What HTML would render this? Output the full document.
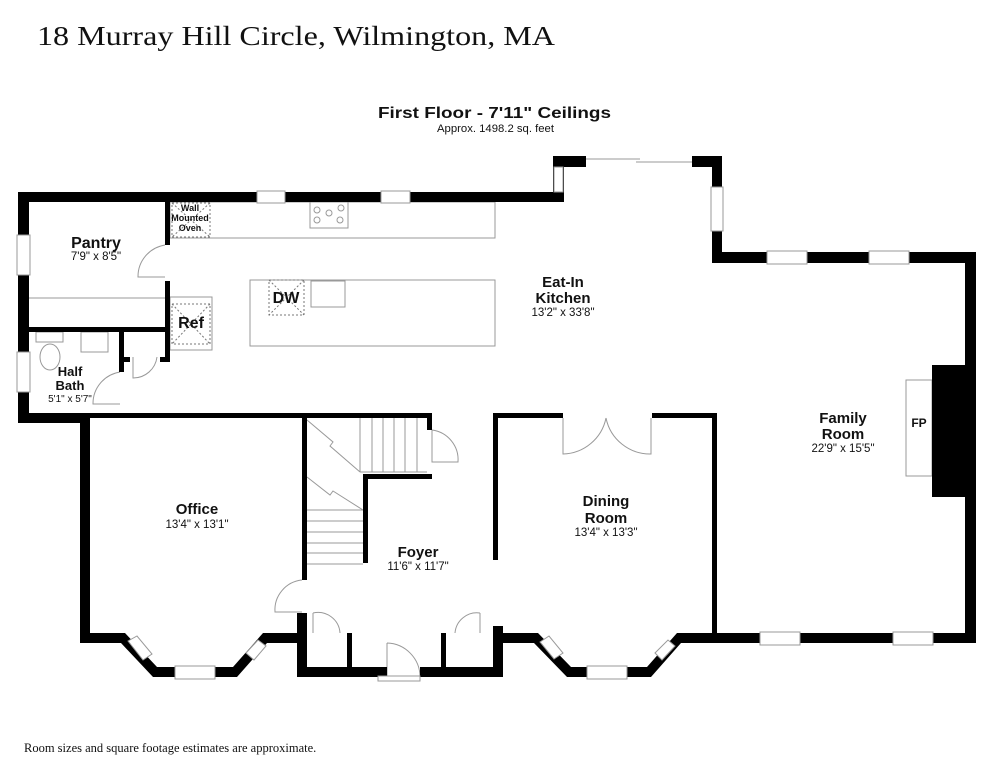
<!DOCTYPE html>
<html><head><meta charset="utf-8"><style>
html,body{margin:0;padding:0;background:#fff;}
svg{display:block;}
text{font-family:"Liberation Sans",Arial,sans-serif;fill:#111;}
.b{font-weight:bold;}
</style></head><body>
<svg width="994" height="768" viewBox="0 0 994 768" xmlns="http://www.w3.org/2000/svg">
<text x="37" y="45" style="font-family:'Liberation Serif',serif" font-size="27" textLength="518" lengthAdjust="spacingAndGlyphs">18 Murray Hill Circle, Wilmington, MA</text>
<text x="378" y="118" class="b" font-size="16" textLength="233" lengthAdjust="spacingAndGlyphs">First Floor - 7'11" Ceilings</text>
<text x="437" y="132" font-size="11" textLength="117" lengthAdjust="spacingAndGlyphs">Approx. 1498.2 sq. feet</text>
<text x="24" y="752" style="font-family:'Liberation Serif',serif" font-size="12.5">Room sizes and square footage estimates are approximate.</text>

<g fill="none" stroke="#999" stroke-width="1">
<rect x="170" y="202" width="325" height="36"/>
<rect x="310" y="202" width="38" height="26"/>
<circle cx="317" cy="210" r="3"/><circle cx="329" cy="213" r="3"/><circle cx="341" cy="208" r="3"/><circle cx="317" cy="220" r="3"/><circle cx="340" cy="220" r="3"/>
<rect x="250" y="280" width="245" height="66"/>
<rect x="311" y="281" width="34" height="26"/>
<rect x="170" y="297" width="42" height="53"/>
<rect x="36" y="332" width="27" height="10"/>
<ellipse cx="50" cy="357" rx="10" ry="13"/>
<rect x="81" y="332" width="27" height="20"/>
<line x1="29" y1="298" x2="165" y2="298"/>
<rect x="906" y="380" width="26" height="96"/>
</g>
<g fill="none" stroke="#777" stroke-width="1" stroke-dasharray="2,2">
<rect x="172" y="203" width="38" height="34"/>
<line x1="172" y1="203" x2="210" y2="237"/><line x1="210" y1="203" x2="172" y2="237"/>
<rect x="269" y="280" width="35" height="35"/>
<line x1="269" y1="280" x2="304" y2="315"/><line x1="304" y1="280" x2="269" y2="315"/>
<rect x="172" y="304" width="38" height="40"/>
<line x1="172" y1="304" x2="210" y2="344"/><line x1="210" y1="304" x2="172" y2="344"/>
</g>
<g fill="none" stroke="#999" stroke-width="1">
<line x1="360" y1="418" x2="360" y2="472"/><line x1="372" y1="418" x2="372" y2="472"/><line x1="383" y1="418" x2="383" y2="472"/><line x1="394" y1="418" x2="394" y2="472"/><line x1="405" y1="418" x2="405" y2="472"/><line x1="417" y1="418" x2="417" y2="472"/>
<line x1="360" y1="472" x2="427" y2="472"/>
<line x1="307" y1="510" x2="363" y2="510"/><line x1="307" y1="521" x2="363" y2="521"/><line x1="307" y1="532" x2="363" y2="532"/><line x1="307" y1="543" x2="363" y2="543"/><line x1="307" y1="553" x2="363" y2="553"/><line x1="307" y1="564" x2="363" y2="564"/>
<polyline points="307,420 333,442 330,446 360,472"/>
<polyline points="307,477 330,495 333,491 363,510"/>
<path d="M165,245 A32,32 0 0 0 138,277 L165,277"/>
<path d="M120,372 A32,32 0 0 0 93,404 L120,404"/>
<path d="M133,357 L133,378 A24,24 0 0 0 157,357"/>
<path d="M432,430 L432,462 L458,462 A30,30 0 0 0 432,430"/>
<path d="M302,580 A30,30 0 0 0 275,612 L302,612"/>
<path d="M313,613 L313,633 M313,613 A22,22 0 0 1 340,633"/>
<path d="M480,613 L480,633 M480,613 A22,22 0 0 0 455,633"/>
<path d="M387,643 L387,677 M387,643 A34,34 0 0 1 420,677"/>
<path d="M563,418 L563,454 A45,45 0 0 0 606,418 M651,418 L651,454 A45,45 0 0 1 606,418"/>
<line x1="586" y1="159" x2="640" y2="159"/><line x1="636" y1="162" x2="692" y2="162"/>
</g>
<g fill="#000">
<rect x="18" y="192" width="545" height="10"/>
<rect x="18" y="192" width="11" height="231"/>
<rect x="553" y="156" width="11" height="46"/>
<rect x="553" y="156" width="33" height="11"/>
<rect x="692" y="156" width="30" height="11"/>
<rect x="712" y="156" width="10" height="107"/>
<rect x="712" y="252" width="264" height="11"/>
<rect x="965" y="252" width="11" height="391"/>
<rect x="680" y="633" width="296" height="10"/>
<rect x="932" y="365" width="33" height="132"/>
<rect x="165" y="202" width="5" height="43"/>
<rect x="165" y="281" width="5" height="81"/>
<rect x="29" y="327" width="141" height="5"/>
<rect x="119" y="332" width="5" height="40"/>
<rect x="124" y="357" width="6" height="5"/><rect x="160" y="357" width="5" height="5"/>
<rect x="18" y="413" width="72" height="10"/>
<rect x="90" y="413" width="342" height="5"/>
<rect x="80" y="413" width="10" height="230"/>
<polygon points="80,633 125,633 157,667 233,667 263,633 307,633 307,643 267,643 237,677 153,677 121,643 80,643"/>
<rect x="302" y="418" width="5" height="162"/>
<rect x="297" y="613" width="10" height="64"/>
<rect x="297" y="667" width="90" height="10"/>
<rect x="420" y="667" width="83" height="10"/>
<rect x="347" y="633" width="5" height="34"/>
<rect x="441" y="633" width="5" height="34"/>
<rect x="493" y="626" width="10" height="51"/>
<rect x="427" y="413" width="5" height="17"/>
<rect x="363" y="474" width="69" height="5"/>
<rect x="363" y="474" width="5" height="89"/>
<rect x="493" y="413" width="70" height="5"/>
<rect x="493" y="413" width="5" height="147"/>
<rect x="652" y="413" width="65" height="5"/>
<rect x="712" y="413" width="5" height="225"/>
<polygon points="497,633 538,633 571,667 647,667 677,633 690,633 690,643 681,643 651,677 567,677 534,643 497,643"/>
</g>
<g fill="#fff" stroke="#999" stroke-width="1">
<rect x="257" y="191" width="28" height="12"/><rect x="381" y="191" width="29" height="12"/>
<rect x="17" y="235" width="13" height="40"/><rect x="17" y="352" width="13" height="40"/>
<rect x="554" y="167" width="9" height="25"/>
<rect x="711" y="187" width="12" height="44"/>
<rect x="767" y="251" width="40" height="13"/><rect x="869" y="251" width="40" height="13"/>
<rect x="760" y="632" width="40" height="13"/><rect x="893" y="632" width="40" height="13"/>
<rect x="175" y="666" width="40" height="13"/><rect x="587" y="666" width="40" height="13"/>
<rect x="378" y="676" width="42" height="5"/>
<polygon points="128,641 137,636 152,654 143,660" />
<polygon points="246,653 258,640 266,646 254,660"/>
<polygon points="540,642 549,636 563,653 554,659"/>
<polygon points="655,653 668,640 675,646 662,660"/>
</g>
<g text-anchor="middle">
<text x="190" y="211" class="b" font-size="9">Wall</text>
<text x="190" y="221" class="b" font-size="9">Mounted</text>
<text x="190" y="231" class="b" font-size="9">Oven</text>
<text x="96" y="248" class="b" font-size="16">Pantry</text>
<text x="96" y="260" font-size="11.5">7'9" x 8'5"</text>
<text x="286" y="303" class="b" font-size="16">DW</text>
<text x="191" y="328" class="b" font-size="16">Ref</text>
<text x="70" y="376" class="b" font-size="13">Half</text>
<text x="70" y="390" class="b" font-size="13">Bath</text>
<text x="70" y="402" font-size="10">5'1" x 5'7"</text>
<text x="563" y="287" class="b" font-size="15">Eat-In</text>
<text x="563" y="303" class="b" font-size="15">Kitchen</text>
<text x="563" y="316" font-size="11.5">13'2" x 33'8"</text>
<text x="843" y="423" class="b" font-size="15">Family</text>
<text x="843" y="439" class="b" font-size="15">Room</text>
<text x="843" y="452" font-size="11.5">22'9" x 15'5"</text>
<text x="919" y="427" class="b" font-size="12">FP</text>
<text x="197" y="514" class="b" font-size="15">Office</text>
<text x="197" y="528" font-size="11.5">13'4" x 13'1"</text>
<text x="606" y="506" class="b" font-size="15">Dining</text>
<text x="606" y="523" class="b" font-size="15">Room</text>
<text x="606" y="536" font-size="11.5">13'4" x 13'3"</text>
<text x="418" y="557" class="b" font-size="15">Foyer</text>
<text x="418" y="570" font-size="11.5">11'6" x 11'7"</text>
</g>
</svg>
</body></html>
